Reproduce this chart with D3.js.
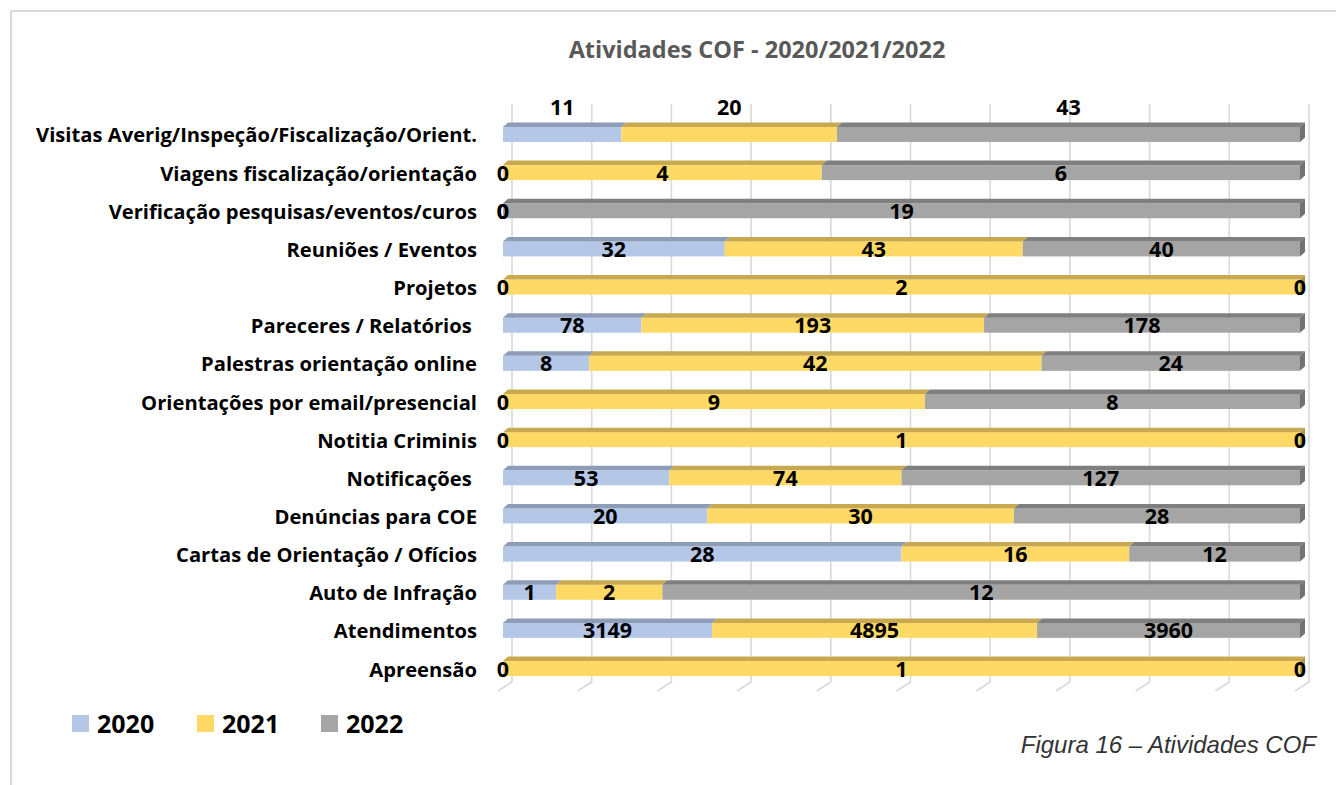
<!DOCTYPE html>
<html lang="pt">
<head>
    <meta charset="UTF-8">
    <title>Atividades COF</title>
    <script src="https://cdn.jsdelivr.net/npm/d3@7"></script>
    <style>
        body{margin:0;background:#fff;}
        text{font-family:"Open Sans",Lato,sans-serif;}
    </style>
</head>
<body>
<script>
    // dados
    var categories=["Visitas Averig/Inspeção/Fiscalização/Orient.","Viagens fiscalização/orientação","Verificação pesquisas/eventos/curos",
        "Reuniões / Eventos","Projetos","Pareceres / Relatórios\u00a0","Palestras orientação online","Orientações por email/presencial",
        "Notitia Criminis","Notificações\u00a0","Denúncias para COE","Cartas de Orientação / Ofícios","Auto de Infração","Atendimentos","Apreensão"];
    var years=["2020","2021","2022"];
    var v2020=[11,0,0,32,0,78,8,0,0,53,20,28,1,3149,0];
    var v2021=[20,4,0,43,2,193,42,9,1,74,30,16,2,4895,1];
    var v2022=[43,6,19,40,0,178,24,8,0,127,28,12,12,3960,0];
    var gridTicks=[0,0.1,0.2,0.3,0.4,0.5,0.6,0.7,0.8,0.9,1];

    var colors=["#b4c7e7","#ffd966","#a5a5a5"];
    var topColors=["#8d9db8","#c8a94f","#7f7f7f"];

    var width=1336,height=785;
    var svg=d3.select("body").append("svg").attr("width",width).attr("height",height);

    // moldura
    svg.append("path").attr("d","M11,785V11H1336").attr("fill","none").attr("stroke","#d9d9d9").attr("stroke-width",2);

    var x=d3.scaleLinear().domain([0,1]).range([503,1300]);
    var y=d3.scalePoint().domain(categories).range([115.4,687.6]).padding(0.5);
    var barH=15,dep=5;

    // linhas de grade (parede de fundo + chão)
    svg.selectAll(".grid").data(gridTicks).enter().append("path")
        .attr("class","grid")
        .attr("d",function(d){var gx=x(d)+9;return "M"+gx+",104V682L"+(gx-14)+",691";})
        .attr("fill","none").attr("stroke","#d9d9d9").attr("stroke-width",1.6);

    var series=[v2020,v2021,v2022];
    var rows=categories.map(function(c,i){
        var total=v2020[i]+v2021[i]+v2022[i],acc=0;
        var segs=series.map(function(s,k){
            var a=acc/total;acc+=s[i];
            return {k:k,v:s[i],x0:a,x1:acc/total};
        });
        return {cat:c,i:i,segs:segs};
    });

    var g=svg.selectAll(".row").data(rows).enter().append("g").attr("class","row");

    g.each(function(r){
        var gr=d3.select(this),cy=y(r.cat),top=cy-barH/2;
        var segs=r.segs.filter(function(s){return s.v>0;});
        gr.selectAll("rect").data(segs).enter().append("rect")
            .attr("x",function(s){return x(s.x0);})
            .attr("y",top)
            .attr("width",function(s){return x(s.x1)-x(s.x0);})
            .attr("height",barH)
            .attr("fill",function(s){return colors[s.k];});
        gr.selectAll(".top").data(segs).enter().append("path").attr("class","top")
            .attr("d",function(s){
                var a=x(s.x0),b=x(s.x1);
                return "M"+a+","+top+"L"+(a+dep)+","+(top-dep+0.5)+"L"+(b+dep)+","+(top-dep+0.5)+"L"+b+","+top+"Z";
            })
            .attr("fill",function(s){return topColors[s.k];});
        var last=segs[segs.length-1],xe=x(1);
        gr.append("path")
            .attr("d","M"+xe+","+top+"L"+(xe+dep)+","+(top-dep+0.5)+"L"+(xe+dep)+","+(top+barH-dep+0.5)+"L"+xe+","+(top+barH)+"Z")
            .attr("fill",d3.color(topColors[last.k]).darker(0.3));

        // rótulos de valores
        gr.selectAll(".val").data(r.segs).enter().append("text").attr("class","val")
            .attr("x",function(s){return (x(s.x0)+x(s.x1))/2;})
            .attr("y",r.i===0?cy-19.5:cy+8)
            .attr("text-anchor","middle")
            .attr("font-weight","bold").attr("font-size",21.5)
            .attr("fill","#000")
            .text(function(s){return s.v;});
    });

    // eixo de categorias
    svg.selectAll(".cat").data(categories).enter().append("text").attr("class","cat")
        .attr("x",477)
        .attr("y",function(d){return y(d)+8;})
        .attr("text-anchor","end")
        .attr("font-weight","bold").attr("font-size",20.2)
        .style("white-space","pre")
        .attr("fill","#000")
        .text(function(d){return d;});

    // título
    svg.append("text").attr("x",757).attr("y",58).attr("text-anchor","middle")
        .attr("font-weight","bold").attr("font-size",23.5).attr("fill","#595959")
        .text("Atividades COF - 2020/2021/2022");

    // legenda
    var legX=[72,197,321];
    var lg=svg.selectAll(".leg").data(years).enter().append("g").attr("class","leg")
        .attr("transform",function(d,i){return "translate("+legX[i]+",715)";});
    lg.append("rect").attr("width",17).attr("height",17).attr("fill",function(d,i){return colors[i];});
    lg.append("text").attr("x",25).attr("y",18).attr("font-weight","bold").attr("font-size",25).attr("fill","#000")
        .text(function(d){return d;});

    // legenda da figura
    svg.append("text").attr("x",1316).attr("y",753).attr("text-anchor","end")
        .attr("font-style","italic").attr("font-size",24).attr("fill","#333")
        .style("font-family","'Liberation Sans',Arial,sans-serif")
        .text("Figura 16 – Atividades COF");
</script>
</body>
</html>
